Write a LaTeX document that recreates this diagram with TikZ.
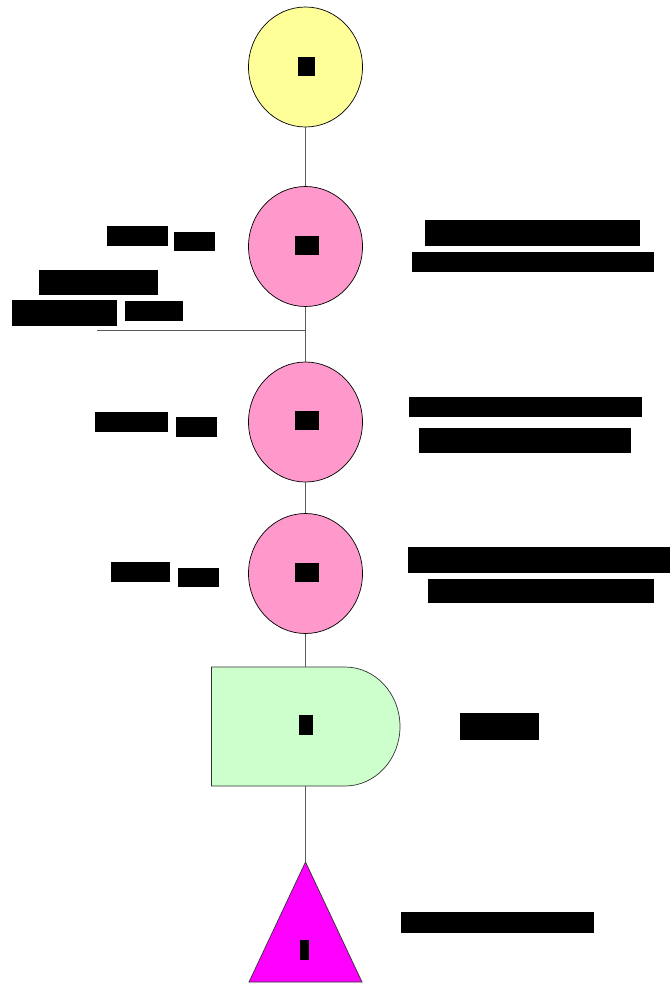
\documentclass[tikz,border=0pt]{standalone}
\usepackage{fontspec}
\setmainfont{Liberation Sans}
\usetikzlibrary{shapes.geometric}
\definecolor{opyellow}{HTML}{FFFF99}
\definecolor{oppink}{HTML}{FF99CC}
\definecolor{delaygreen}{HTML}{CCFFCC}
\definecolor{storemag}{HTML}{FF00FF}
\definecolor{flowline}{HTML}{5A5A5A}
\begin{document}
\begin{tikzpicture}[x=1pt,y=-1pt,
  op/.style={ellipse, draw=black, line width=0.7pt, minimum width=114pt,
             minimum height=120pt, inner sep=0pt},
  tag/.style={fill=black, text=black, inner sep=0pt, font=\bfseries\scriptsize},
  flow/.style={draw=flowline, line width=1pt},
  outline/.style={draw=black!80, line width=0.7pt}]
\useasboundingbox (0,0) rectangle (670,985);
\fill[white] (0,0) rectangle (670,985);

% process symbols
\node[op, fill=opyellow] (s1) at (305.5,67) {};
\node[op, fill=oppink] (s2) at (305.5,246.5) {};
\node[op, fill=oppink] (s3) at (305.5,422) {};
\node[op, fill=oppink] (s4) at (305.5,573.5) {};

% delay symbol
\filldraw[outline, fill=delaygreen] (211.5,667) -- (345,667)
  arc[start angle=-90, end angle=90, x radius=55, y radius=59.5]
  -- (211.5,786) -- cycle;
\coordinate (dtop) at (305.5,667);
\coordinate (dbot) at (305.5,786);

% storage symbol
\filldraw[outline, fill=storemag] (305.5,862) -- (362,982) -- (249,982) -- cycle;
\coordinate (tri) at (305.5,862);

% flow line
\draw[flow] (s1.south) -- (s2.north);
\draw[flow] (s2.south) -- (s3.north);
\draw[flow] (s3.south) -- (s4.north);
\draw[flow] (s4.south) -- (dtop);
\draw[flow] (dbot) -- (tri);
\coordinate (branch) at (97,330);
\draw[flow] (branch) -- (branch -| s2.south);

% symbol numbers
\node[tag, minimum width=17pt, minimum height=19pt] at (306.5,66.5) {0};
\node[tag, minimum width=24pt, minimum height=19pt] at (306.5,245.5) {1};
\node[tag, minimum width=24pt, minimum height=19pt] at (306.5,420) {2};
\node[tag, minimum width=24pt, minimum height=19pt] at (306.5,572) {3};
\node[tag, minimum width=14pt, minimum height=20pt] at (306,725) {D};
\node[tag, minimum width=9pt, minimum height=20pt] at (304.5,950) {1};

% distances
\node[tag, minimum width=61pt, minimum height=20pt] at (137.5,236) {3,000};
\node[tag, minimum width=41pt, minimum height=19pt] at (194.5,241.5) {mm};
\node[tag, minimum width=119pt, minimum height=25pt] at (98.5,282.5) {Material};
\node[tag, minimum width=105pt, minimum height=26pt] at (64.5,313) {supplied,};
\node[tag, minimum width=58pt, minimum height=20pt] at (154,311) {mm};
\node[tag, minimum width=73pt, minimum height=20pt] at (131.5,422) {20,000};
\node[tag, minimum width=41pt, minimum height=20pt] at (196.5,427) {mm};
\node[tag, minimum width=59pt, minimum height=20pt] at (140.5,572) {1,000};
\node[tag, minimum width=41pt, minimum height=19pt] at (198.5,577.5) {mm};

% step descriptions
\node[tag, minimum width=215pt, minimum height=26pt] at (532.5,233) {Transfer to cutting};
\node[tag, minimum width=242pt, minimum height=20pt] at (533,262) {station by conveyor};
\node[tag, minimum width=233pt, minimum height=20pt] at (525.5,407) {Transfer to forming};
\node[tag, minimum width=212pt, minimum height=25pt] at (525,440.5) {station by crane};
\node[tag, minimum width=262pt, minimum height=26pt] at (539,560) {Transfer to inspection};
\node[tag, minimum width=226pt, minimum height=24pt] at (541,591) {station by trolley};
\node[tag, minimum width=79pt, minimum height=27pt] at (499.5,726.5) {Wait};
\node[tag, minimum width=193pt, minimum height=21pt] at (497.5,922.5) {Store in warehouse};
\end{tikzpicture}
\end{document}
